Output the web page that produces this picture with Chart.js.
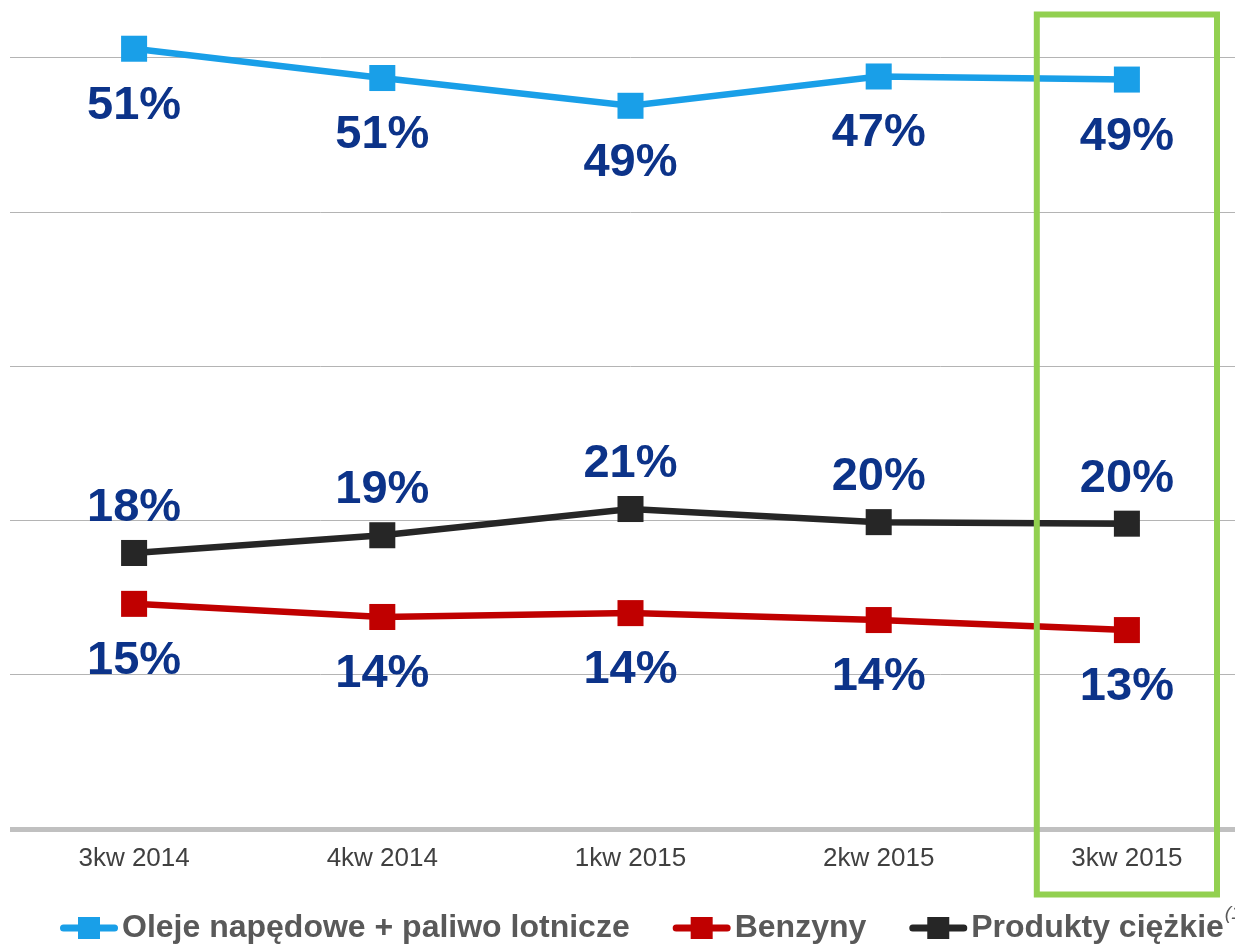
<!DOCTYPE html>
<html>
<head>
<meta charset="utf-8">
<script src="https://cdn.jsdelivr.net/npm/chart.js@4"></script>
<style>
  body { margin: 0; overflow: hidden; background: #fff; }
  #wrap { width: 1260px; height: 946px; position: relative; }
</style>
</head>
<body>
<div id="wrap"><canvas id="dataChart"></canvas></div>
<script>
// categories and values
const quarters = ['3kw 2014', '4kw 2014', '1kw 2015', '2kw 2015', '3kw 2015'];

const dieselValues = [50.6, 48.7, 46.9, 48.8, 48.6];
const petrolValues = [14.6, 13.75, 14.0, 13.55, 12.9];
const heavyValues = [17.9, 19.05, 20.75, 19.9, 19.8];

// printed labels (as shown on the slide)
const dieselLabels = ['51%', '51%', '49%', '47%', '49%'];
const petrolLabels = ['15%', '14%', '14%', '14%', '13%'];
const heavyLabels = ['18%', '19%', '21%', '20%', '20%'];

const seriesNames = ['Oleje napędowe + paliwo lotnicze', 'Benzyny', 'Produkty ciężkie'];
const footnoteMark = '(1)';

const COLORS = {
    blue: '#199fe8',
    red: '#c00000',
    black: '#262626',
    label: '#0c3389',
    legendText: '#595959',
    green: '#92d050'
};

const FONT = '"Liberation Sans", Arial, sans-serif';
Chart.defaults.font.family = FONT;

const pctLabels = {
    id: 'pctLabels',
    afterDatasetsDraw(chart) {
        const ctx = chart.ctx;
        ctx.save();
        ctx.font = 'bold 47px ' + FONT;
        ctx.fillStyle = COLORS.label;
        ctx.textAlign = 'center';
        ctx.textBaseline = 'middle';
        chart.data.datasets.forEach((ds, i) => {
            const meta = chart.getDatasetMeta(i);
            meta.data.forEach((pt, j) => {
                ctx.fillText(ds.pctText[j], pt.x, pt.y + ds.labelOffset);
            });
        });
        ctx.restore();
    }
};

// green frame round the last quarter
const highlight = {
    id: 'highlight',
    afterDraw(chart) {
        const x = chart.scales.x;
        const area = chart.chartArea;
        const step = x.getPixelForValue(1) - x.getPixelForValue(0);
        const cx = x.getPixelForValue(quarters.length - 1);
        const ctx = chart.ctx;
        ctx.save();
        ctx.strokeStyle = COLORS.green;
        ctx.lineWidth = 6;
        ctx.strokeRect(cx - step * 0.363, area.top + 14.5, step * 0.726, area.bottom - area.top + 51);
        ctx.restore();
    }
};

// excel-like legend: line with a square, bold grey text
const bottomLegend = {
    id: 'bottomLegend',
    afterDraw(chart) {
        const ctx = chart.ctx;
        const y = chart.height - 18;
        let x = 60;
        ctx.save();
        ctx.font = 'bold 32px ' + FONT;
        ctx.textBaseline = 'middle';
        chart.data.datasets.forEach((ds, i) => {
            ctx.strokeStyle = ds.borderColor;
            ctx.fillStyle = ds.borderColor;
            ctx.lineWidth = 7;
            ctx.lineCap = 'round';
            ctx.beginPath();
            ctx.moveTo(x + 3.5, y);
            ctx.lineTo(x + 54.5, y);
            ctx.stroke();
            ctx.fillRect(x + 18, y - 11, 22, 22);
            x += 62;
            ctx.fillStyle = COLORS.legendText;
            ctx.fillText(ds.label, x, y);
            x += ctx.measureText(ds.label).width;
            if (i === chart.data.datasets.length - 1) {
                ctx.font = 'italic 19px ' + FONT;
                ctx.fillText(footnoteMark, x + 1, y - 14);
            }
            x += 43;
        });
        ctx.restore();
    }
};

const ctx = document.getElementById('dataChart').getContext('2d');
const myChart = new Chart(ctx, {
    type: 'line',
    data: {
        labels: quarters,
        datasets: [
            {
                label: seriesNames[0],
                data: dieselValues,
                pctText: dieselLabels,
                labelOffset: 57,
                borderColor: COLORS.blue,
                backgroundColor: COLORS.blue
            },
            {
                label: seriesNames[1],
                data: petrolValues,
                pctText: petrolLabels,
                labelOffset: 57,
                borderColor: COLORS.red,
                backgroundColor: COLORS.red
            },
            {
                label: seriesNames[2],
                data: heavyValues,
                pctText: heavyLabels,
                labelOffset: -45,
                borderColor: COLORS.black,
                backgroundColor: COLORS.black
            }
        ]
    },
    options: {
        responsive: true,
        maintainAspectRatio: false,
        animation: false,
        layout: { autoPadding: false, padding: { left: 10, right: 9, top: 0, bottom: 71 } },
        elements: {
            line: { borderWidth: 6.5, tension: 0 },
            point: { pointStyle: 'rect', radius: 18.4, hoverRadius: 18.4, borderWidth: 0 }
        },
        datasets: { line: { clip: false } },
        scales: {
            x: {
                offset: true,
                grid: { display: false },
                border: { display: false },
                ticks: { color: '#404040', font: { size: 26 }, padding: 6, maxRotation: 0 },
                afterFit: scale => { scale.height = 46; }
            },
            y: {
                min: 0,
                max: 53.76,
                border: { display: false },
                ticks: { display: false, stepSize: 10 },
                afterFit: scale => { scale.width = 0; },
                grid: {
                    drawTicks: false,
                    color: c => (c.tick.value % 10 !== 0 ? 'rgba(0,0,0,0)' : (c.tick.value === 0 ? '#c0c0c0' : '#b4b4b4')),
                    lineWidth: c => (c.tick.value === 0 ? 5 : 1)
                }
            }
        },
        plugins: {
            tooltip: { enabled: false },
            legend: { display: false }
        }
    },
    plugins: [pctLabels, highlight, bottomLegend]
});
</script>
</body>
</html>
